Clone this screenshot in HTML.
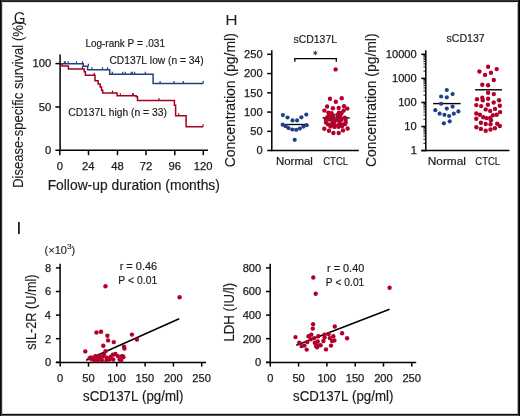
<!DOCTYPE html>
<html><head><meta charset="utf-8"><style>
html,body{margin:0;padding:0;background:#fff;}
body{width:520px;height:416px;overflow:hidden;}
svg{display:block;will-change:transform;font-family:"Liberation Sans",sans-serif;font-kerning:none;}
</style></head><body>
<svg width="520" height="416" viewBox="0 0 520 416">
<rect x="0" y="0" width="520" height="416" fill="#fff"/>
<text x="13.74" y="24.30" font-size="15.84" textLength="11.80" lengthAdjust="spacingAndGlyphs" fill="#1c1c1c" >G</text>
<text transform="translate(22.90,186.80) rotate(-90)" x="-1.07" y="0" font-size="14.24" textLength="167.08" lengthAdjust="spacingAndGlyphs" fill="#1c1c1c" stroke="#1c1c1c" stroke-width="0.12">Disease-specific survival (%)</text>
<line x1="60.1" y1="54.6" x2="60.1" y2="150.9" stroke="#000" stroke-width="1.5"/>
<line x1="55.4" y1="150.2" x2="208" y2="150.2" stroke="#000" stroke-width="1.5"/>
<line x1="55.4" y1="63.6" x2="60.1" y2="63.6" stroke="#000" stroke-width="1.5"/>
<line x1="55.4" y1="107.0" x2="60.1" y2="107.0" stroke="#000" stroke-width="1.5"/>
<line x1="59.8" y1="150.2" x2="59.8" y2="155.2" stroke="#000" stroke-width="1.5"/>
<line x1="88.5" y1="150.2" x2="88.5" y2="155.2" stroke="#000" stroke-width="1.5"/>
<line x1="117.5" y1="150.2" x2="117.5" y2="155.2" stroke="#000" stroke-width="1.5"/>
<line x1="146.0" y1="150.2" x2="146.0" y2="155.2" stroke="#000" stroke-width="1.5"/>
<line x1="174.8" y1="150.2" x2="174.8" y2="155.2" stroke="#000" stroke-width="1.5"/>
<line x1="203.3" y1="150.2" x2="203.3" y2="155.2" stroke="#000" stroke-width="1.5"/>
<text x="32.59" y="67.25" font-size="10.60" textLength="18.75" lengthAdjust="spacingAndGlyphs" fill="#1c1c1c" stroke="#1c1c1c" stroke-width="0.25">100</text>
<text x="38.84" y="110.65" font-size="10.60" textLength="12.50" lengthAdjust="spacingAndGlyphs" fill="#1c1c1c" stroke="#1c1c1c" stroke-width="0.25">50</text>
<text x="45.09" y="154.05" font-size="10.60" textLength="6.25" lengthAdjust="spacingAndGlyphs" fill="#1c1c1c" stroke="#1c1c1c" stroke-width="0.25">0</text>
<text x="56.68" y="169.70" font-size="10.60" textLength="6.25" lengthAdjust="spacingAndGlyphs" fill="#1c1c1c" stroke="#1c1c1c" stroke-width="0.25">0</text>
<text x="82.13" y="169.70" font-size="10.60" textLength="12.50" lengthAdjust="spacingAndGlyphs" fill="#1c1c1c" stroke="#1c1c1c" stroke-width="0.25">24</text>
<text x="111.37" y="169.70" font-size="10.60" textLength="12.50" lengthAdjust="spacingAndGlyphs" fill="#1c1c1c" stroke="#1c1c1c" stroke-width="0.25">48</text>
<text x="139.75" y="169.70" font-size="10.60" textLength="12.50" lengthAdjust="spacingAndGlyphs" fill="#1c1c1c" stroke="#1c1c1c" stroke-width="0.25">72</text>
<text x="168.53" y="169.70" font-size="10.60" textLength="12.50" lengthAdjust="spacingAndGlyphs" fill="#1c1c1c" stroke="#1c1c1c" stroke-width="0.25">96</text>
<text x="193.72" y="169.70" font-size="10.60" textLength="18.75" lengthAdjust="spacingAndGlyphs" fill="#1c1c1c" stroke="#1c1c1c" stroke-width="0.25">120</text>
<text x="47.67" y="189.60" font-size="14.10" textLength="172.19" lengthAdjust="spacingAndGlyphs" fill="#1c1c1c" stroke="#1c1c1c" stroke-width="0.18" >Follow-up duration (months)</text>
<text x="85.38" y="46.90" font-size="10.32" textLength="79.61" lengthAdjust="spacingAndGlyphs" fill="#1c1c1c" stroke="#1c1c1c" stroke-width="0.18" >Log-rank P = .031</text>
<text x="109.48" y="63.70" font-size="10.61" textLength="94.15" lengthAdjust="spacingAndGlyphs" fill="#1c1c1c" stroke="#1c1c1c" stroke-width="0.18" >CD137L low (n = 34)</text>
<text x="68.28" y="115.80" font-size="10.90" textLength="98.56" lengthAdjust="spacingAndGlyphs" fill="#1c1c1c" stroke="#1c1c1c" stroke-width="0.18" >CD137L high (n = 33)</text>
<path d="M60.8,63.9 L62.0,63.9 L62.0,66.1 L68.4,66.1 L68.4,69.0 L84.2,69.0 L84.2,71.7 L85.4,71.7 L85.4,75.3 L95.0,75.3 L95.0,80.8 L98.1,80.8 L98.1,84.0 L100.2,84.0 L100.2,86.9 L101.5,86.9 L101.5,90.2 L102.7,90.2 L102.7,93.1 L117.1,93.1 L117.1,95.8 L136.2,95.8 L136.2,96.8 L137.5,96.8 L137.5,100.4 L174.4,100.4 L174.4,105.3 L175.6,105.3 L175.6,115.75 L186.1,115.75 L186.1,126.75 L203.1,126.75" fill="none" stroke="#a60020" stroke-width="1.5" stroke-linejoin="miter"/>
<path d="M60.8,63.8 L83.2,63.8 L83.2,66.2 L87.6,66.2 L87.6,69.8 L109.7,69.8 L109.7,74.25 L153.1,74.25 L153.1,83.5 L203.3,83.5" fill="none" stroke="#22417d" stroke-width="1.5" stroke-linejoin="miter"/>
<line x1="82.4" y1="66.5" x2="82.4" y2="69.0" stroke="#a60020" stroke-width="1.2"/>
<line x1="94.2" y1="72.8" x2="94.2" y2="75.3" stroke="#a60020" stroke-width="1.2"/>
<line x1="112.5" y1="90.6" x2="112.5" y2="93.1" stroke="#a60020" stroke-width="1.2"/>
<line x1="120.3" y1="93.3" x2="120.3" y2="95.8" stroke="#a60020" stroke-width="1.2"/>
<line x1="132.6" y1="93.3" x2="132.6" y2="95.8" stroke="#a60020" stroke-width="1.2"/>
<line x1="133.3" y1="93.3" x2="133.3" y2="95.8" stroke="#a60020" stroke-width="1.2"/>
<line x1="158.9" y1="97.9" x2="158.9" y2="100.4" stroke="#a60020" stroke-width="1.2"/>
<line x1="178.7" y1="113.25" x2="178.7" y2="115.75" stroke="#a60020" stroke-width="1.2"/>
<line x1="203.1" y1="124.25" x2="203.1" y2="126.75" stroke="#a60020" stroke-width="1.2"/>
<line x1="64.35" y1="61.3" x2="64.35" y2="63.8" stroke="#22417d" stroke-width="1.2"/>
<line x1="65.3" y1="61.3" x2="65.3" y2="63.8" stroke="#22417d" stroke-width="1.2"/>
<line x1="68.2" y1="61.3" x2="68.2" y2="63.8" stroke="#22417d" stroke-width="1.2"/>
<line x1="76.5" y1="61.3" x2="76.5" y2="63.8" stroke="#22417d" stroke-width="1.2"/>
<line x1="82.5" y1="61.3" x2="82.5" y2="63.8" stroke="#22417d" stroke-width="1.2"/>
<line x1="91.9" y1="67.3" x2="91.9" y2="69.8" stroke="#22417d" stroke-width="1.2"/>
<line x1="102.5" y1="67.3" x2="102.5" y2="69.8" stroke="#22417d" stroke-width="1.2"/>
<line x1="107.5" y1="67.3" x2="107.5" y2="69.8" stroke="#22417d" stroke-width="1.2"/>
<line x1="88.4" y1="63.7" x2="88.4" y2="66.2" stroke="#22417d" stroke-width="1.2"/>
<line x1="112.3" y1="71.75" x2="112.3" y2="74.25" stroke="#22417d" stroke-width="1.2"/>
<line x1="122.7" y1="71.75" x2="122.7" y2="74.25" stroke="#22417d" stroke-width="1.2"/>
<line x1="125.3" y1="71.75" x2="125.3" y2="74.25" stroke="#22417d" stroke-width="1.2"/>
<line x1="131.3" y1="71.75" x2="131.3" y2="74.25" stroke="#22417d" stroke-width="1.2"/>
<line x1="132.2" y1="71.75" x2="132.2" y2="74.25" stroke="#22417d" stroke-width="1.2"/>
<line x1="134.6" y1="71.75" x2="134.6" y2="74.25" stroke="#22417d" stroke-width="1.2"/>
<line x1="145.25" y1="71.75" x2="145.25" y2="74.25" stroke="#22417d" stroke-width="1.2"/>
<line x1="160.1" y1="81.0" x2="160.1" y2="83.5" stroke="#22417d" stroke-width="1.2"/>
<line x1="174.0" y1="81.0" x2="174.0" y2="83.5" stroke="#22417d" stroke-width="1.2"/>
<line x1="183.3" y1="81.0" x2="183.3" y2="83.5" stroke="#22417d" stroke-width="1.2"/>
<line x1="203.2" y1="81.0" x2="203.2" y2="83.5" stroke="#22417d" stroke-width="1.2"/>
<text x="225.29" y="25.00" font-size="15.41" textLength="12.41" lengthAdjust="spacingAndGlyphs" fill="#1c1c1c" >H</text>
<text transform="translate(234.50,166.60) rotate(-90)" x="-0.71" y="0" font-size="15.12" textLength="134.17" lengthAdjust="spacingAndGlyphs" fill="#1c1c1c" stroke="#1c1c1c" stroke-width="0.12">Concentration (pg/ml)</text>
<text x="293.51" y="42.50" font-size="10.17" textLength="43.54" lengthAdjust="spacingAndGlyphs" fill="#1c1c1c" stroke="#1c1c1c" stroke-width="0.18" >sCD137L</text>
<line x1="315.3" y1="50.65" x2="315.3" y2="55.35" stroke="#222" stroke-width="0.85"/>
<line x1="313.26" y1="51.83" x2="317.34" y2="54.17" stroke="#222" stroke-width="0.85"/>
<line x1="317.34" y1="51.83" x2="313.26" y2="54.17" stroke="#222" stroke-width="0.85"/>
<path d="M294.8,61.8 L294.8,58.6 L336.3,58.6 L336.3,61.8" fill="none" stroke="#000" stroke-width="1.3"/>
<line x1="271.8" y1="50.2" x2="271.8" y2="151.3" stroke="#000" stroke-width="1.5"/>
<line x1="267.2" y1="150.6" x2="358.8" y2="150.6" stroke="#000" stroke-width="1.5"/>
<line x1="267.2" y1="54.3" x2="271.8" y2="54.3" stroke="#000" stroke-width="1.5"/>
<text x="244.06" y="58.10" font-size="10.50" textLength="18.57" lengthAdjust="spacingAndGlyphs" fill="#1c1c1c" stroke="#1c1c1c" stroke-width="0.25">250</text>
<line x1="267.2" y1="73.56" x2="271.8" y2="73.56" stroke="#000" stroke-width="1.5"/>
<text x="244.06" y="77.36" font-size="10.50" textLength="18.57" lengthAdjust="spacingAndGlyphs" fill="#1c1c1c" stroke="#1c1c1c" stroke-width="0.25">200</text>
<line x1="267.2" y1="92.82" x2="271.8" y2="92.82" stroke="#000" stroke-width="1.5"/>
<text x="244.06" y="96.62" font-size="10.50" textLength="18.57" lengthAdjust="spacingAndGlyphs" fill="#1c1c1c" stroke="#1c1c1c" stroke-width="0.25">150</text>
<line x1="267.2" y1="112.08" x2="271.8" y2="112.08" stroke="#000" stroke-width="1.5"/>
<text x="244.06" y="115.88" font-size="10.50" textLength="18.57" lengthAdjust="spacingAndGlyphs" fill="#1c1c1c" stroke="#1c1c1c" stroke-width="0.25">100</text>
<line x1="267.2" y1="131.34" x2="271.8" y2="131.34" stroke="#000" stroke-width="1.5"/>
<text x="250.25" y="135.14" font-size="10.50" textLength="12.38" lengthAdjust="spacingAndGlyphs" fill="#1c1c1c" stroke="#1c1c1c" stroke-width="0.25">50</text>
<text x="256.44" y="154.40" font-size="10.50" textLength="6.19" lengthAdjust="spacingAndGlyphs" fill="#1c1c1c" stroke="#1c1c1c" stroke-width="0.25">0</text>
<text x="275.96" y="165.00" font-size="10.47" textLength="36.91" lengthAdjust="spacingAndGlyphs" fill="#1c1c1c" stroke="#1c1c1c" stroke-width="0.18" >Normal</text>
<text x="323.22" y="165.00" font-size="10.47" textLength="24.80" lengthAdjust="spacingAndGlyphs" fill="#1c1c1c" stroke="#1c1c1c" stroke-width="0.18" >CTCL</text>
<line x1="284.5" y1="124.5" x2="305" y2="124.5" stroke="#000" stroke-width="1.3"/>
<circle cx="282.9" cy="115.1" r="2.1" fill="#1f3f86"/>
<circle cx="287.5" cy="117.5" r="2.1" fill="#1f3f86"/>
<circle cx="292.5" cy="120.4" r="2.1" fill="#1f3f86"/>
<circle cx="297.1" cy="120.4" r="2.1" fill="#1f3f86"/>
<circle cx="301.4" cy="117.3" r="2.1" fill="#1f3f86"/>
<circle cx="306.3" cy="114.6" r="2.1" fill="#1f3f86"/>
<circle cx="282.7" cy="124.7" r="2.1" fill="#1f3f86"/>
<circle cx="306.7" cy="125.2" r="2.1" fill="#1f3f86"/>
<circle cx="285.6" cy="126.2" r="2.1" fill="#1f3f86"/>
<circle cx="288.5" cy="128.1" r="2.1" fill="#1f3f86"/>
<circle cx="292.3" cy="129.5" r="2.1" fill="#1f3f86"/>
<circle cx="296.2" cy="129.8" r="2.1" fill="#1f3f86"/>
<circle cx="299.8" cy="128.6" r="2.1" fill="#1f3f86"/>
<circle cx="303.4" cy="126.6" r="2.1" fill="#1f3f86"/>
<circle cx="294.7" cy="139.8" r="2.1" fill="#1f3f86"/>
<line x1="322.5" y1="117.9" x2="349.6" y2="117.9" stroke="#000" stroke-width="1.4"/>
<circle cx="335.6" cy="69.4" r="2.2" fill="#b1002b"/>
<circle cx="330.0" cy="98.8" r="2.2" fill="#b1002b"/>
<circle cx="335.8" cy="101.7" r="2.2" fill="#b1002b"/>
<circle cx="341.7" cy="98.2" r="2.2" fill="#b1002b"/>
<circle cx="327.1" cy="106.5" r="2.2" fill="#b1002b"/>
<circle cx="332.9" cy="108.2" r="2.2" fill="#b1002b"/>
<circle cx="338.7" cy="108.0" r="2.2" fill="#b1002b"/>
<circle cx="344.0" cy="106.3" r="2.2" fill="#b1002b"/>
<circle cx="347.3" cy="108.6" r="2.2" fill="#b1002b"/>
<circle cx="324.4" cy="110.6" r="2.2" fill="#b1002b"/>
<circle cx="343.7" cy="110.6" r="2.2" fill="#b1002b"/>
<circle cx="328.4" cy="112.6" r="2.2" fill="#b1002b"/>
<circle cx="331.6" cy="113.2" r="2.2" fill="#b1002b"/>
<circle cx="338.9" cy="112.8" r="2.2" fill="#b1002b"/>
<circle cx="341.6" cy="113.0" r="2.2" fill="#b1002b"/>
<circle cx="328.9" cy="115.2" r="2.2" fill="#b1002b"/>
<circle cx="333.0" cy="115.4" r="2.2" fill="#b1002b"/>
<circle cx="337.3" cy="115.0" r="2.2" fill="#b1002b"/>
<circle cx="340.2" cy="115.4" r="2.2" fill="#b1002b"/>
<circle cx="327.2" cy="117.4" r="2.2" fill="#b1002b"/>
<circle cx="330.8" cy="117.8" r="2.2" fill="#b1002b"/>
<circle cx="339.5" cy="117.6" r="2.2" fill="#b1002b"/>
<circle cx="344.8" cy="117.6" r="2.2" fill="#b1002b"/>
<circle cx="325.9" cy="119.8" r="2.2" fill="#b1002b"/>
<circle cx="329.4" cy="119.6" r="2.2" fill="#b1002b"/>
<circle cx="333.4" cy="120.2" r="2.2" fill="#b1002b"/>
<circle cx="337.0" cy="119.9" r="2.2" fill="#b1002b"/>
<circle cx="341.2" cy="119.8" r="2.2" fill="#b1002b"/>
<circle cx="345.6" cy="120.0" r="2.2" fill="#b1002b"/>
<circle cx="326.0" cy="122.6" r="2.2" fill="#b1002b"/>
<circle cx="332.7" cy="122.3" r="2.2" fill="#b1002b"/>
<circle cx="339.6" cy="122.0" r="2.2" fill="#b1002b"/>
<circle cx="345.6" cy="122.6" r="2.2" fill="#b1002b"/>
<circle cx="334.5" cy="121.4" r="2.2" fill="#b1002b"/>
<circle cx="328.0" cy="124.4" r="2.2" fill="#b1002b"/>
<circle cx="331.5" cy="124.8" r="2.2" fill="#b1002b"/>
<circle cx="334.8" cy="125.3" r="2.2" fill="#b1002b"/>
<circle cx="338.6" cy="125.0" r="2.2" fill="#b1002b"/>
<circle cx="341.8" cy="124.6" r="2.2" fill="#b1002b"/>
<circle cx="345.0" cy="124.0" r="2.2" fill="#b1002b"/>
<circle cx="330.5" cy="126.4" r="2.2" fill="#b1002b"/>
<circle cx="334.5" cy="126.9" r="2.2" fill="#b1002b"/>
<circle cx="338.5" cy="126.8" r="2.2" fill="#b1002b"/>
<circle cx="342.0" cy="126.2" r="2.2" fill="#b1002b"/>
<circle cx="324.3" cy="128.7" r="2.2" fill="#b1002b"/>
<circle cx="329.0" cy="130.8" r="2.2" fill="#b1002b"/>
<circle cx="333.4" cy="133.0" r="2.2" fill="#b1002b"/>
<circle cx="338.7" cy="133.0" r="2.2" fill="#b1002b"/>
<circle cx="343.0" cy="130.4" r="2.2" fill="#b1002b"/>
<circle cx="347.6" cy="128.5" r="2.2" fill="#b1002b"/>
<text x="446.51" y="42.30" font-size="10.47" textLength="38.23" lengthAdjust="spacingAndGlyphs" fill="#1c1c1c" stroke="#1c1c1c" stroke-width="0.18" >sCD137</text>
<text transform="translate(375.80,166.40) rotate(-90)" x="-0.71" y="0" font-size="15.26" textLength="133.67" lengthAdjust="spacingAndGlyphs" fill="#1c1c1c" stroke="#1c1c1c" stroke-width="0.12">Concentration (pg/ml)</text>
<line x1="425.8" y1="50.3" x2="425.8" y2="151.3" stroke="#000" stroke-width="1.5"/>
<line x1="421.3" y1="150.6" x2="509.4" y2="150.6" stroke="#000" stroke-width="1.5"/>
<line x1="421.3" y1="150.6" x2="425.8" y2="150.6" stroke="#000" stroke-width="1.5"/>
<text x="410.65" y="154.40" font-size="10.50" textLength="6.19" lengthAdjust="spacingAndGlyphs" fill="#1c1c1c" stroke="#1c1c1c" stroke-width="0.25">1</text>
<line x1="423.4" y1="143.35420800436796" x2="425.8" y2="143.35420800436796" stroke="#000" stroke-width="0.9"/>
<line x1="423.4" y1="139.11569139889772" x2="425.8" y2="139.11569139889772" stroke="#000" stroke-width="0.9"/>
<line x1="423.4" y1="136.10841600873593" x2="425.8" y2="136.10841600873593" stroke="#000" stroke-width="0.9"/>
<line x1="423.4" y1="133.775791995632" x2="425.8" y2="133.775791995632" stroke="#000" stroke-width="0.9"/>
<line x1="423.4" y1="131.8698994032657" x2="425.8" y2="131.8698994032657" stroke="#000" stroke-width="0.9"/>
<line x1="423.4" y1="130.25849017685684" x2="425.8" y2="130.25849017685684" stroke="#000" stroke-width="0.9"/>
<line x1="423.4" y1="128.86262401310393" x2="425.8" y2="128.86262401310393" stroke="#000" stroke-width="0.9"/>
<line x1="423.4" y1="127.63138279779545" x2="425.8" y2="127.63138279779545" stroke="#000" stroke-width="0.9"/>
<line x1="421.3" y1="126.53" x2="425.8" y2="126.53" stroke="#000" stroke-width="1.5"/>
<text x="404.35" y="130.33" font-size="10.50" textLength="12.38" lengthAdjust="spacingAndGlyphs" fill="#1c1c1c" stroke="#1c1c1c" stroke-width="0.25">10</text>
<line x1="423.4" y1="119.28420800436797" x2="425.8" y2="119.28420800436797" stroke="#000" stroke-width="0.9"/>
<line x1="423.4" y1="115.04569139889773" x2="425.8" y2="115.04569139889773" stroke="#000" stroke-width="0.9"/>
<line x1="423.4" y1="112.03841600873595" x2="425.8" y2="112.03841600873595" stroke="#000" stroke-width="0.9"/>
<line x1="423.4" y1="109.70579199563203" x2="425.8" y2="109.70579199563203" stroke="#000" stroke-width="0.9"/>
<line x1="423.4" y1="107.7998994032657" x2="425.8" y2="107.7998994032657" stroke="#000" stroke-width="0.9"/>
<line x1="423.4" y1="106.18849017685685" x2="425.8" y2="106.18849017685685" stroke="#000" stroke-width="0.9"/>
<line x1="423.4" y1="104.79262401310392" x2="425.8" y2="104.79262401310392" stroke="#000" stroke-width="0.9"/>
<line x1="423.4" y1="103.56138279779546" x2="425.8" y2="103.56138279779546" stroke="#000" stroke-width="0.9"/>
<line x1="421.3" y1="102.46" x2="425.8" y2="102.46" stroke="#000" stroke-width="1.5"/>
<text x="398.16" y="106.26" font-size="10.50" textLength="18.57" lengthAdjust="spacingAndGlyphs" fill="#1c1c1c" stroke="#1c1c1c" stroke-width="0.25">100</text>
<line x1="423.4" y1="95.21420800436796" x2="425.8" y2="95.21420800436796" stroke="#000" stroke-width="0.9"/>
<line x1="423.4" y1="90.97569139889772" x2="425.8" y2="90.97569139889772" stroke="#000" stroke-width="0.9"/>
<line x1="423.4" y1="87.96841600873594" x2="425.8" y2="87.96841600873594" stroke="#000" stroke-width="0.9"/>
<line x1="423.4" y1="85.63579199563202" x2="425.8" y2="85.63579199563202" stroke="#000" stroke-width="0.9"/>
<line x1="423.4" y1="83.72989940326569" x2="425.8" y2="83.72989940326569" stroke="#000" stroke-width="0.9"/>
<line x1="423.4" y1="82.11849017685682" x2="425.8" y2="82.11849017685682" stroke="#000" stroke-width="0.9"/>
<line x1="423.4" y1="80.72262401310391" x2="425.8" y2="80.72262401310391" stroke="#000" stroke-width="0.9"/>
<line x1="423.4" y1="79.49138279779544" x2="425.8" y2="79.49138279779544" stroke="#000" stroke-width="0.9"/>
<line x1="421.3" y1="78.38999999999999" x2="425.8" y2="78.38999999999999" stroke="#000" stroke-width="1.5"/>
<text x="391.97" y="82.19" font-size="10.50" textLength="24.76" lengthAdjust="spacingAndGlyphs" fill="#1c1c1c" stroke="#1c1c1c" stroke-width="0.25">1000</text>
<line x1="423.4" y1="71.14420800436795" x2="425.8" y2="71.14420800436795" stroke="#000" stroke-width="0.9"/>
<line x1="423.4" y1="66.90569139889772" x2="425.8" y2="66.90569139889772" stroke="#000" stroke-width="0.9"/>
<line x1="423.4" y1="63.898416008735936" x2="425.8" y2="63.898416008735936" stroke="#000" stroke-width="0.9"/>
<line x1="423.4" y1="61.56579199563201" x2="425.8" y2="61.56579199563201" stroke="#000" stroke-width="0.9"/>
<line x1="423.4" y1="59.65989940326568" x2="425.8" y2="59.65989940326568" stroke="#000" stroke-width="0.9"/>
<line x1="423.4" y1="58.04849017685682" x2="425.8" y2="58.04849017685682" stroke="#000" stroke-width="0.9"/>
<line x1="423.4" y1="56.6526240131039" x2="425.8" y2="56.6526240131039" stroke="#000" stroke-width="0.9"/>
<line x1="423.4" y1="55.42138279779544" x2="425.8" y2="55.42138279779544" stroke="#000" stroke-width="0.9"/>
<line x1="421.3" y1="54.31999999999999" x2="425.8" y2="54.31999999999999" stroke="#000" stroke-width="1.5"/>
<text x="385.78" y="58.12" font-size="10.50" textLength="30.95" lengthAdjust="spacingAndGlyphs" fill="#1c1c1c" stroke="#1c1c1c" stroke-width="0.25">10000</text>
<text x="427.73" y="165.00" font-size="10.47" textLength="38.27" lengthAdjust="spacingAndGlyphs" fill="#1c1c1c" stroke="#1c1c1c" stroke-width="0.18" >Normal</text>
<text x="475.32" y="165.00" font-size="10.47" textLength="24.80" lengthAdjust="spacingAndGlyphs" fill="#1c1c1c" stroke="#1c1c1c" stroke-width="0.18" >CTCL</text>
<line x1="433.1" y1="103.6" x2="460.6" y2="103.6" stroke="#000" stroke-width="1.4"/>
<circle cx="446.8" cy="90" r="2.1" fill="#1f3f86"/>
<circle cx="452.6" cy="94.1" r="2.1" fill="#1f3f86"/>
<circle cx="441.1" cy="96.5" r="2.1" fill="#1f3f86"/>
<circle cx="446.8" cy="97.3" r="2.1" fill="#1f3f86"/>
<circle cx="441.1" cy="103.75" r="2.1" fill="#1f3f86"/>
<circle cx="452.6" cy="106.6" r="2.1" fill="#1f3f86"/>
<circle cx="446.8" cy="108.6" r="2.1" fill="#1f3f86"/>
<circle cx="435.3" cy="110.2" r="2.1" fill="#1f3f86"/>
<circle cx="458.4" cy="111.4" r="2.1" fill="#1f3f86"/>
<circle cx="439.6" cy="113.65" r="2.1" fill="#1f3f86"/>
<circle cx="444.4" cy="114.8" r="2.1" fill="#1f3f86"/>
<circle cx="449.2" cy="116" r="2.1" fill="#1f3f86"/>
<circle cx="453.8" cy="113.65" r="2.1" fill="#1f3f86"/>
<circle cx="449.7" cy="121.3" r="2.1" fill="#1f3f86"/>
<circle cx="443.9" cy="123.3" r="2.1" fill="#1f3f86"/>
<line x1="475.1" y1="89.8" x2="502" y2="89.8" stroke="#000" stroke-width="1.4"/>
<circle cx="488.1" cy="66.7" r="2.2" fill="#b1002b"/>
<circle cx="496.7" cy="69.1" r="2.2" fill="#b1002b"/>
<circle cx="479.4" cy="71.5" r="2.2" fill="#b1002b"/>
<circle cx="485" cy="74.9" r="2.2" fill="#b1002b"/>
<circle cx="491" cy="72.7" r="2.2" fill="#b1002b"/>
<circle cx="493.8" cy="80" r="2.2" fill="#b1002b"/>
<circle cx="482.3" cy="84.8" r="2.2" fill="#b1002b"/>
<circle cx="488.1" cy="85.2" r="2.2" fill="#b1002b"/>
<circle cx="488.1" cy="92.7" r="2.2" fill="#b1002b"/>
<circle cx="493.8" cy="94.1" r="2.2" fill="#b1002b"/>
<circle cx="477" cy="99.3" r="2.2" fill="#b1002b"/>
<circle cx="482.3" cy="97.7" r="2.2" fill="#b1002b"/>
<circle cx="482.8" cy="100.3" r="2.2" fill="#b1002b"/>
<circle cx="488.1" cy="98.8" r="2.2" fill="#b1002b"/>
<circle cx="499.1" cy="100.3" r="2.2" fill="#b1002b"/>
<circle cx="493.7" cy="102.5" r="2.2" fill="#b1002b"/>
<circle cx="476.3" cy="105.1" r="2.2" fill="#b1002b"/>
<circle cx="481.2" cy="106.1" r="2.2" fill="#b1002b"/>
<circle cx="487.9" cy="104.8" r="2.2" fill="#b1002b"/>
<circle cx="499.8" cy="105.8" r="2.2" fill="#b1002b"/>
<circle cx="485.7" cy="109.4" r="2.2" fill="#b1002b"/>
<circle cx="490.2" cy="110.9" r="2.2" fill="#b1002b"/>
<circle cx="495" cy="108.9" r="2.2" fill="#b1002b"/>
<circle cx="476.3" cy="113.5" r="2.2" fill="#b1002b"/>
<circle cx="479.9" cy="114.7" r="2.2" fill="#b1002b"/>
<circle cx="483.3" cy="117.3" r="2.2" fill="#b1002b"/>
<circle cx="486.6" cy="118.1" r="2.2" fill="#b1002b"/>
<circle cx="490.2" cy="117.9" r="2.2" fill="#b1002b"/>
<circle cx="492.9" cy="115.2" r="2.2" fill="#b1002b"/>
<circle cx="496.7" cy="114.7" r="2.2" fill="#b1002b"/>
<circle cx="500.1" cy="112.1" r="2.2" fill="#b1002b"/>
<circle cx="476.3" cy="118.8" r="2.2" fill="#b1002b"/>
<circle cx="491" cy="120.2" r="2.2" fill="#b1002b"/>
<circle cx="480.9" cy="122.8" r="2.2" fill="#b1002b"/>
<circle cx="485.7" cy="124.0" r="2.2" fill="#b1002b"/>
<circle cx="490.5" cy="124.3" r="2.2" fill="#b1002b"/>
<circle cx="497.2" cy="123.7" r="2.2" fill="#b1002b"/>
<circle cx="499.8" cy="126" r="2.2" fill="#b1002b"/>
<circle cx="476.4" cy="127.3" r="2.2" fill="#b1002b"/>
<circle cx="480.9" cy="128.9" r="2.2" fill="#b1002b"/>
<circle cx="485.7" cy="130.7" r="2.2" fill="#b1002b"/>
<circle cx="490.5" cy="129.5" r="2.2" fill="#b1002b"/>
<circle cx="494.9" cy="128.3" r="2.2" fill="#b1002b"/>
<text x="16.32" y="234.20" font-size="17.01" textLength="5.36" lengthAdjust="spacingAndGlyphs" fill="#1c1c1c" >I</text>
<text transform="translate(36.00,349.50) rotate(-90)" x="-0.35" y="0" font-size="14.10" textLength="75.34" lengthAdjust="spacingAndGlyphs" fill="#1c1c1c" stroke="#1c1c1c" stroke-width="0.12">sIL-2R (U/ml)</text>
<g transform="translate(44.6,0) scale(1.07,1)"><text x="0" y="254.1" font-size="10.3" fill="#1c1c1c" stroke="#1c1c1c" stroke-width="0.12">(×10<tspan font-size="7.8" dy="-4.6">3</tspan><tspan dy="4.6">)</tspan></text></g>
<line x1="60.1" y1="263.8" x2="60.1" y2="363.1" stroke="#000" stroke-width="1.5"/>
<line x1="55.9" y1="362.4" x2="206.1" y2="362.4" stroke="#000" stroke-width="1.5"/>
<line x1="55.9" y1="362.3" x2="60.1" y2="362.3" stroke="#000" stroke-width="1.5"/>
<text x="44.94" y="366.10" font-size="10.50" textLength="6.19" lengthAdjust="spacingAndGlyphs" fill="#1c1c1c" stroke="#1c1c1c" stroke-width="0.25">0</text>
<line x1="55.9" y1="338.7" x2="60.1" y2="338.7" stroke="#000" stroke-width="1.5"/>
<text x="45.07" y="342.50" font-size="10.50" textLength="6.19" lengthAdjust="spacingAndGlyphs" fill="#1c1c1c" stroke="#1c1c1c" stroke-width="0.25">2</text>
<line x1="55.9" y1="315.1" x2="60.1" y2="315.1" stroke="#000" stroke-width="1.5"/>
<text x="44.84" y="318.90" font-size="10.50" textLength="6.19" lengthAdjust="spacingAndGlyphs" fill="#1c1c1c" stroke="#1c1c1c" stroke-width="0.25">4</text>
<line x1="55.9" y1="291.5" x2="60.1" y2="291.5" stroke="#000" stroke-width="1.5"/>
<text x="45.00" y="295.30" font-size="10.50" textLength="6.19" lengthAdjust="spacingAndGlyphs" fill="#1c1c1c" stroke="#1c1c1c" stroke-width="0.25">6</text>
<line x1="55.9" y1="267.9" x2="60.1" y2="267.9" stroke="#000" stroke-width="1.5"/>
<text x="44.99" y="271.70" font-size="10.50" textLength="6.19" lengthAdjust="spacingAndGlyphs" fill="#1c1c1c" stroke="#1c1c1c" stroke-width="0.25">8</text>
<line x1="60.2" y1="362.4" x2="60.2" y2="366.6" stroke="#000" stroke-width="1.5"/>
<text x="57.11" y="381.50" font-size="10.50" textLength="6.19" lengthAdjust="spacingAndGlyphs" fill="#1c1c1c" stroke="#1c1c1c" stroke-width="0.25">0</text>
<line x1="88.5" y1="362.4" x2="88.5" y2="366.6" stroke="#000" stroke-width="1.5"/>
<text x="82.30" y="381.50" font-size="10.50" textLength="12.38" lengthAdjust="spacingAndGlyphs" fill="#1c1c1c" stroke="#1c1c1c" stroke-width="0.25">50</text>
<line x1="116.80000000000001" y1="362.4" x2="116.80000000000001" y2="366.6" stroke="#000" stroke-width="1.5"/>
<text x="107.31" y="381.50" font-size="10.50" textLength="18.57" lengthAdjust="spacingAndGlyphs" fill="#1c1c1c" stroke="#1c1c1c" stroke-width="0.25">100</text>
<line x1="145.10000000000002" y1="362.4" x2="145.10000000000002" y2="366.6" stroke="#000" stroke-width="1.5"/>
<text x="135.61" y="381.50" font-size="10.50" textLength="18.57" lengthAdjust="spacingAndGlyphs" fill="#1c1c1c" stroke="#1c1c1c" stroke-width="0.25">150</text>
<line x1="173.4" y1="362.4" x2="173.4" y2="366.6" stroke="#000" stroke-width="1.5"/>
<text x="164.05" y="381.50" font-size="10.50" textLength="18.57" lengthAdjust="spacingAndGlyphs" fill="#1c1c1c" stroke="#1c1c1c" stroke-width="0.25">200</text>
<line x1="201.7" y1="362.4" x2="201.7" y2="366.6" stroke="#000" stroke-width="1.5"/>
<text x="192.35" y="381.50" font-size="10.50" textLength="18.57" lengthAdjust="spacingAndGlyphs" fill="#1c1c1c" stroke="#1c1c1c" stroke-width="0.25">250</text>
<text x="83.03" y="401.20" font-size="13.95" textLength="100.29" lengthAdjust="spacingAndGlyphs" fill="#1c1c1c" stroke="#1c1c1c" stroke-width="0.18" >sCD137L (pg/ml)</text>
<text x="119.67" y="269.80" font-size="10.32" textLength="37.51" lengthAdjust="spacingAndGlyphs" fill="#1c1c1c" stroke="#1c1c1c" stroke-width="0.18" >r = 0.46</text>
<text x="118.35" y="283.60" font-size="10.47" textLength="38.85" lengthAdjust="spacingAndGlyphs" fill="#1c1c1c" stroke="#1c1c1c" stroke-width="0.18" >P &lt; 0.01</text>
<line x1="86.2" y1="360.2" x2="179.2" y2="318.8" stroke="#000" stroke-width="1.5"/>
<circle cx="105.5" cy="286.3" r="2.2" fill="#b1002b"/>
<circle cx="179.6" cy="297.3" r="2.2" fill="#b1002b"/>
<circle cx="96.5" cy="332.5" r="2.2" fill="#b1002b"/>
<circle cx="101" cy="331.7" r="2.2" fill="#b1002b"/>
<circle cx="107.4" cy="335.8" r="2.2" fill="#b1002b"/>
<circle cx="108.1" cy="340.4" r="2.2" fill="#b1002b"/>
<circle cx="113.8" cy="342.1" r="2.2" fill="#b1002b"/>
<circle cx="103.3" cy="345.7" r="2.2" fill="#b1002b"/>
<circle cx="124" cy="346.6" r="2.2" fill="#b1002b"/>
<circle cx="124.4" cy="348.6" r="2.2" fill="#b1002b"/>
<circle cx="85.3" cy="351.4" r="2.2" fill="#b1002b"/>
<circle cx="105.5" cy="351.2" r="2.2" fill="#b1002b"/>
<circle cx="131.9" cy="334.6" r="2.2" fill="#b1002b"/>
<circle cx="136.9" cy="339.6" r="2.2" fill="#b1002b"/>
<circle cx="121.9" cy="356.3" r="2.2" fill="#b1002b"/>
<circle cx="123.3" cy="357.2" r="2.2" fill="#b1002b"/>
<circle cx="121" cy="360.3" r="2.2" fill="#b1002b"/>
<circle cx="89.5" cy="358.2" r="2.2" fill="#b1002b"/>
<circle cx="92.0" cy="359.3" r="2.2" fill="#b1002b"/>
<circle cx="94.5" cy="360.0" r="2.2" fill="#b1002b"/>
<circle cx="95.2" cy="356.2" r="2.2" fill="#b1002b"/>
<circle cx="96.9" cy="357.2" r="2.2" fill="#b1002b"/>
<circle cx="97.8" cy="360.0" r="2.2" fill="#b1002b"/>
<circle cx="99.7" cy="358.7" r="2.2" fill="#b1002b"/>
<circle cx="99.3" cy="355.8" r="2.2" fill="#b1002b"/>
<circle cx="103.0" cy="356.5" r="2.2" fill="#b1002b"/>
<circle cx="101.8" cy="360.2" r="2.2" fill="#b1002b"/>
<circle cx="106.9" cy="357.8" r="2.2" fill="#b1002b"/>
<circle cx="106.5" cy="360.2" r="2.2" fill="#b1002b"/>
<circle cx="109.4" cy="359.5" r="2.2" fill="#b1002b"/>
<circle cx="112.8" cy="354.8" r="2.2" fill="#b1002b"/>
<circle cx="115.4" cy="354.0" r="2.2" fill="#b1002b"/>
<circle cx="113.2" cy="359.5" r="2.2" fill="#b1002b"/>
<circle cx="117.9" cy="356.1" r="2.2" fill="#b1002b"/>
<circle cx="119.6" cy="359.5" r="2.2" fill="#b1002b"/>
<circle cx="123.0" cy="356.5" r="2.2" fill="#b1002b"/>
<circle cx="104.0" cy="354.6" r="2.2" fill="#b1002b"/>
<circle cx="110.5" cy="357.0" r="2.2" fill="#b1002b"/>
<circle cx="91.0" cy="357.5" r="2.2" fill="#b1002b"/>
<text transform="translate(233.90,340.40) rotate(-90)" x="-1.08" y="0" font-size="13.95" textLength="58.60" lengthAdjust="spacingAndGlyphs" fill="#1c1c1c" stroke="#1c1c1c" stroke-width="0.12">LDH (IU/l)</text>
<line x1="270.2" y1="263.8" x2="270.2" y2="363.1" stroke="#000" stroke-width="1.5"/>
<line x1="266.0" y1="362.4" x2="416.2" y2="362.4" stroke="#000" stroke-width="1.5"/>
<line x1="266.0" y1="362.3" x2="270.2" y2="362.3" stroke="#000" stroke-width="1.5"/>
<text x="255.04" y="366.10" font-size="10.50" textLength="6.19" lengthAdjust="spacingAndGlyphs" fill="#1c1c1c" stroke="#1c1c1c" stroke-width="0.25">0</text>
<line x1="266.0" y1="338.7" x2="270.2" y2="338.7" stroke="#000" stroke-width="1.5"/>
<text x="242.66" y="342.50" font-size="10.50" textLength="18.57" lengthAdjust="spacingAndGlyphs" fill="#1c1c1c" stroke="#1c1c1c" stroke-width="0.25">200</text>
<line x1="266.0" y1="315.1" x2="270.2" y2="315.1" stroke="#000" stroke-width="1.5"/>
<text x="242.66" y="318.90" font-size="10.50" textLength="18.57" lengthAdjust="spacingAndGlyphs" fill="#1c1c1c" stroke="#1c1c1c" stroke-width="0.25">400</text>
<line x1="266.0" y1="291.5" x2="270.2" y2="291.5" stroke="#000" stroke-width="1.5"/>
<text x="242.66" y="295.30" font-size="10.50" textLength="18.57" lengthAdjust="spacingAndGlyphs" fill="#1c1c1c" stroke="#1c1c1c" stroke-width="0.25">600</text>
<line x1="266.0" y1="267.9" x2="270.2" y2="267.9" stroke="#000" stroke-width="1.5"/>
<text x="242.66" y="271.70" font-size="10.50" textLength="18.57" lengthAdjust="spacingAndGlyphs" fill="#1c1c1c" stroke="#1c1c1c" stroke-width="0.25">800</text>
<line x1="270.3" y1="362.4" x2="270.3" y2="366.6" stroke="#000" stroke-width="1.5"/>
<text x="267.21" y="381.50" font-size="10.50" textLength="6.19" lengthAdjust="spacingAndGlyphs" fill="#1c1c1c" stroke="#1c1c1c" stroke-width="0.25">0</text>
<line x1="298.6" y1="362.4" x2="298.6" y2="366.6" stroke="#000" stroke-width="1.5"/>
<text x="292.40" y="381.50" font-size="10.50" textLength="12.38" lengthAdjust="spacingAndGlyphs" fill="#1c1c1c" stroke="#1c1c1c" stroke-width="0.25">50</text>
<line x1="326.90000000000003" y1="362.4" x2="326.90000000000003" y2="366.6" stroke="#000" stroke-width="1.5"/>
<text x="317.41" y="381.50" font-size="10.50" textLength="18.57" lengthAdjust="spacingAndGlyphs" fill="#1c1c1c" stroke="#1c1c1c" stroke-width="0.25">100</text>
<line x1="355.20000000000005" y1="362.4" x2="355.20000000000005" y2="366.6" stroke="#000" stroke-width="1.5"/>
<text x="345.71" y="381.50" font-size="10.50" textLength="18.57" lengthAdjust="spacingAndGlyphs" fill="#1c1c1c" stroke="#1c1c1c" stroke-width="0.25">150</text>
<line x1="383.5" y1="362.4" x2="383.5" y2="366.6" stroke="#000" stroke-width="1.5"/>
<text x="374.15" y="381.50" font-size="10.50" textLength="18.57" lengthAdjust="spacingAndGlyphs" fill="#1c1c1c" stroke="#1c1c1c" stroke-width="0.25">200</text>
<line x1="411.8" y1="362.4" x2="411.8" y2="366.6" stroke="#000" stroke-width="1.5"/>
<text x="402.45" y="381.50" font-size="10.50" textLength="18.57" lengthAdjust="spacingAndGlyphs" fill="#1c1c1c" stroke="#1c1c1c" stroke-width="0.25">250</text>
<text x="293.03" y="401.00" font-size="13.95" textLength="100.29" lengthAdjust="spacingAndGlyphs" fill="#1c1c1c" stroke="#1c1c1c" stroke-width="0.18" >sCD137L (pg/ml)</text>
<text x="327.08" y="272.10" font-size="10.17" textLength="37.15" lengthAdjust="spacingAndGlyphs" fill="#1c1c1c" stroke="#1c1c1c" stroke-width="0.18" >r = 0.40</text>
<text x="325.86" y="286.10" font-size="10.61" textLength="38.44" lengthAdjust="spacingAndGlyphs" fill="#1c1c1c" stroke="#1c1c1c" stroke-width="0.18" >P &lt; 0.01</text>
<line x1="296.3" y1="345.2" x2="389.6" y2="309.2" stroke="#000" stroke-width="1.5"/>
<circle cx="313.3" cy="277.5" r="2.2" fill="#b1002b"/>
<circle cx="315.7" cy="293.7" r="2.2" fill="#b1002b"/>
<circle cx="389.6" cy="287.7" r="2.2" fill="#b1002b"/>
<circle cx="313.1" cy="324.2" r="2.2" fill="#b1002b"/>
<circle cx="312.8" cy="328.6" r="2.2" fill="#b1002b"/>
<circle cx="334.8" cy="326.5" r="2.2" fill="#b1002b"/>
<circle cx="342.1" cy="333.2" r="2.2" fill="#b1002b"/>
<circle cx="347.1" cy="338.3" r="2.2" fill="#b1002b"/>
<circle cx="295.5" cy="337.1" r="2.2" fill="#b1002b"/>
<circle cx="299.2" cy="342.7" r="2.2" fill="#b1002b"/>
<circle cx="301.5" cy="346.1" r="2.2" fill="#b1002b"/>
<circle cx="304.4" cy="345.6" r="2.2" fill="#b1002b"/>
<circle cx="306.7" cy="349.6" r="2.2" fill="#b1002b"/>
<circle cx="307.3" cy="342.1" r="2.2" fill="#b1002b"/>
<circle cx="308.5" cy="336.3" r="2.2" fill="#b1002b"/>
<circle cx="311.3" cy="334.6" r="2.2" fill="#b1002b"/>
<circle cx="310.8" cy="339.2" r="2.2" fill="#b1002b"/>
<circle cx="314.2" cy="338.1" r="2.2" fill="#b1002b"/>
<circle cx="318.3" cy="336.3" r="2.2" fill="#b1002b"/>
<circle cx="314.8" cy="342.7" r="2.2" fill="#b1002b"/>
<circle cx="317.1" cy="345.2" r="2.2" fill="#b1002b"/>
<circle cx="317.1" cy="347.3" r="2.2" fill="#b1002b"/>
<circle cx="320.6" cy="345.2" r="2.2" fill="#b1002b"/>
<circle cx="323.4" cy="341" r="2.2" fill="#b1002b"/>
<circle cx="324.4" cy="334.6" r="2.2" fill="#b1002b"/>
<circle cx="324.6" cy="337.5" r="2.2" fill="#b1002b"/>
<circle cx="326" cy="349.4" r="2.2" fill="#b1002b"/>
<circle cx="328.6" cy="334" r="2.2" fill="#b1002b"/>
<circle cx="329.8" cy="338.1" r="2.2" fill="#b1002b"/>
<circle cx="331" cy="345.6" r="2.2" fill="#b1002b"/>
<circle cx="333.3" cy="336.3" r="2.2" fill="#b1002b"/>
<circle cx="334.4" cy="340.4" r="2.2" fill="#b1002b"/>
<circle cx="332.1" cy="341" r="2.2" fill="#b1002b"/>
<circle cx="317.7" cy="341.5" r="2.2" fill="#b1002b"/>
<circle cx="316" cy="346.1" r="2.2" fill="#b1002b"/>
<g shape-rendering="crispEdges">
<rect x="0" y="0" width="520" height="1" fill="#333"/><rect x="0" y="1" width="520" height="1" fill="#1c1c1c"/><rect x="2" y="2" width="515" height="1" fill="#e4e4e4"/>
<rect x="0" y="415" width="520" height="1" fill="#555"/><rect x="0" y="414" width="520" height="1" fill="#0c0c0c"/><rect x="2" y="413" width="515" height="1" fill="#d4d4d4"/>
<rect x="0" y="0" width="1" height="416" fill="#080808"/><rect x="1" y="1" width="1" height="414" fill="#3a3a3a"/><rect x="2" y="3" width="1" height="410" fill="#d6d6d6"/>
<rect x="519" y="0" width="1" height="416" fill="#000"/><rect x="518" y="1" width="1" height="414" fill="#1a1a1a"/><rect x="517" y="3" width="1" height="411" fill="#b4b4b4"/>
</g>
</svg>
</body></html>
